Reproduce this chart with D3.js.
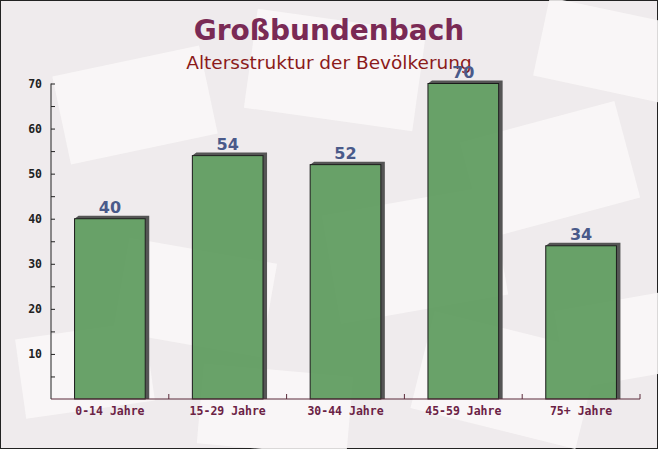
<!DOCTYPE html>
<html><head><meta charset="utf-8">
<script src="https://cdn.jsdelivr.net/npm/d3@7"></script>
<style>body{margin:0;background:#fff}svg{display:block}</style>
</head><body>
<script>
const categories = ["0-14 Jahre","15-29 Jahre","30-44 Jahre","45-59 Jahre","75+ Jahre"];
const values = [40, 54, 52, 70, 34];
const yTicks = [10,20,30,40,50,60,70];
const title = "Großbundenbach";
const subtitle = "Altersstruktur der Bevölkerung";

const W = 658, H = 449;
const svg = d3.select("body").append("svg").attr("width", W).attr("height", H);
svg.append("rect").attr("x",0.5).attr("y",0.5).attr("width",W-1).attr("height",H-1)
  .attr("fill","#efebed").attr("stroke","#222").attr("stroke-width",1);

// faint decorative envelopes
const deco = [[60,60,150,90,-12],[250,20,170,100,8],[470,120,160,100,-15],[540,10,130,80,12],[120,250,150,95,10],[330,200,170,110,-10],[20,330,130,80,-8],[420,330,170,100,14],[560,300,120,80,-10],[200,370,150,80,5]];
svg.append("g").selectAll("rect").data(deco).join("rect")
  .attr("x",d=>d[0]).attr("y",d=>d[1]).attr("width",d=>d[2]).attr("height",d=>d[3])
  .attr("transform",d=>`rotate(${d[4]},${d[0]+d[2]/2},${d[1]+d[3]/2})`)
  .attr("fill","#faf8f8").attr("opacity",0.85);

const x0 = 51, x1 = 640, yTop = 83.5, yBot = 399;
const x = d3.scaleBand().domain(categories).range([x0, x1]).paddingInner(0.4).paddingOuter(0.2);
const y = d3.scaleLinear().domain([0, 70]).range([yBot, yTop]);

svg.append("text").attr("x",329).attr("y",40).attr("text-anchor","middle")
  .attr("font-family","'DejaVu Sans', Verdana, sans-serif").attr("font-weight","bold")
  .attr("font-size",28).attr("fill","#7a2a55").text(title);
svg.append("text").attr("x",329).attr("y",69).attr("text-anchor","middle")
  .attr("font-family","'DejaVu Sans', Verdana, sans-serif")
  .attr("font-size",18.5).attr("fill","#8b1a1a").text(subtitle);

// bars with 3D shadow
const g = svg.append("g");
const dx = 4, dy = 3;
const bars = g.selectAll("g.bar").data(values).join("g");
bars.append("path")
  .attr("d",(d,i)=>{
    const bx = x(categories[i]), bw = x.bandwidth(), by = y(d);
    return `M${bx},${by} L${bx+dx},${by-dy} L${bx+bw+dx},${by-dy} L${bx+bw+dx},${yBot} L${bx+bw},${yBot} L${bx+bw},${by} Z`;
  }).attr("fill","#555");
bars.append("rect")
  .attr("x",(d,i)=>x(categories[i])).attr("y",d=>y(d))
  .attr("width",x.bandwidth()).attr("height",d=>yBot-y(d))
  .attr("fill","#5e9b5e").attr("fill-opacity",0.93).attr("stroke","#1a1a1a").attr("stroke-width",1);
bars.append("text")
  .attr("x",(d,i)=>x(categories[i])+x.bandwidth()/2).attr("y",d=>y(d)-6)
  .attr("text-anchor","middle").attr("font-family","'DejaVu Sans', sans-serif")
  .attr("font-weight","bold").attr("font-size",16).attr("fill","#4a5a8a").text(d=>d);

// y axis
const yAxis = d3.axisLeft(y).tickValues(d3.range(5,71,5)).tickSize(-4).tickFormat(d=> d%10===0 ? d : "");
const ya = svg.append("g").attr("transform",`translate(${x0},0)`).call(yAxis);
ya.select(".domain").attr("stroke","#222").attr("d",`M0,${yTop}V${yBot}`);
ya.selectAll(".tick line").attr("stroke","#222");
ya.selectAll(".tick text").attr("x",-9).attr("font-family","'DejaVu Sans Mono', monospace")
  .attr("font-weight","bold").attr("font-size",11.5).attr("fill","#222");

// x axis
const xa = svg.append("g").attr("transform",`translate(0,${yBot})`)
  .call(d3.axisBottom(x).tickSize(0).tickPadding(8));
xa.select(".domain").attr("stroke","#5a2a3a").attr("d",`M${x0},0H${x1}`);
xa.selectAll(".tick text").attr("font-family","'DejaVu Sans Mono', monospace")
  .attr("font-weight","bold").attr("font-size",11.5).attr("fill","#6b2245");
const step = x.step();
svg.append("g").selectAll("line").data(d3.range(1,6)).join("line")
  .attr("x1",d=>x0+d*step).attr("x2",d=>x0+d*step).attr("y1",yBot).attr("y2",yBot-5)
  .attr("stroke","#5a2a3a");
</script>
</body></html>
